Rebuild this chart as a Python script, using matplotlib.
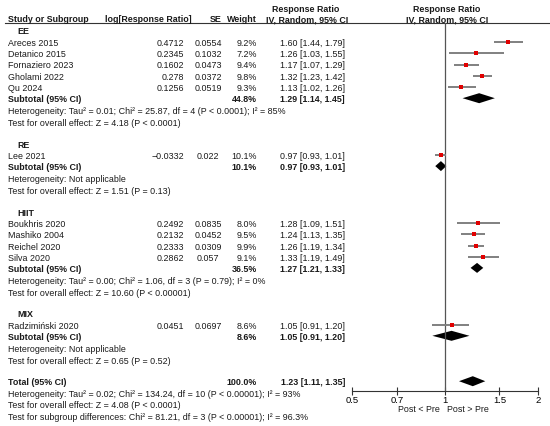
import matplotlib.pyplot as plt

plt.rcParams['font.family'] = ['Liberation Sans', 'DejaVu Sans']

# data
groups = ["EE", "RE", "HIIT", "MIX"]
studies = [
    ["Areces 2015", "Detanico 2015", "Fornaziero 2023", "Gholami 2022", "Qu 2024"],
    ["Lee 2021"],
    ["Boukhris 2020", "Mashiko 2004", "Reichel 2020", "Silva 2020"],
    ["Radzimiński 2020"],
]
log_rr = [
    ["0.4712", "0.2345", "0.1602", "0.278", "0.1256"],
    ["\u22120.0332"],
    ["0.2492", "0.2132", "0.2333", "0.2862"],
    ["0.0451"],
]
se = [
    ["0.0554", "0.1032", "0.0473", "0.0372", "0.0519"],
    ["0.022"],
    ["0.0835", "0.0452", "0.0309", "0.057"],
    ["0.0697"],
]
weights = [
    [9.2, 7.2, 9.4, 9.8, 9.3],
    [10.1],
    [8.0, 9.5, 9.9, 9.1],
    [8.6],
]
rr = [
    [1.60, 1.26, 1.17, 1.32, 1.13],
    [0.97],
    [1.28, 1.24, 1.26, 1.33],
    [1.05],
]
rr_lo = [
    [1.44, 1.03, 1.07, 1.23, 1.02],
    [0.93],
    [1.09, 1.13, 1.19, 1.19],
    [0.91],
]
rr_hi = [
    [1.79, 1.55, 1.29, 1.42, 1.26],
    [1.01],
    [1.51, 1.35, 1.34, 1.49],
    [1.20],
]
sub_weight = [44.8, 10.1, 36.5, 8.6]
sub_rr = [1.29, 0.97, 1.27, 1.05]
sub_lo = [1.14, 0.93, 1.21, 0.91]
sub_hi = [1.45, 1.01, 1.33, 1.20]
sub_het = [
    "Heterogeneity: Tau\u00b2 = 0.01; Chi\u00b2 = 25.87, df = 4 (P < 0.0001); I\u00b2 = 85%",
    "Heterogeneity: Not applicable",
    "Heterogeneity: Tau\u00b2 = 0.00; Chi\u00b2 = 1.06, df = 3 (P = 0.79); I\u00b2 = 0%",
    "Heterogeneity: Not applicable",
]
sub_test = [
    "Test for overall effect: Z = 4.18 (P < 0.0001)",
    "Test for overall effect: Z = 1.51 (P = 0.13)",
    "Test for overall effect: Z = 10.60 (P < 0.00001)",
    "Test for overall effect: Z = 0.65 (P = 0.52)",
]
total_rr, total_lo, total_hi = 1.23, 1.11, 1.35
total_lines = [
    "Heterogeneity: Tau\u00b2 = 0.02; Chi\u00b2 = 134.24, df = 10 (P < 0.00001); I\u00b2 = 93%",
    "Test for overall effect: Z = 4.08 (P < 0.0001)",
    "Test for subgroup differences: Chi\u00b2 = 81.21, df = 3 (P < 0.00001); I\u00b2 = 96.3%",
]
xticks = [0.5, 0.7, 1, 1.5, 2]
xtick_labels = ["0.5", "0.7", "1", "1.5", "2"]

W, H = 550, 426
FS = 6.4
fig = plt.figure(figsize=(W / 100, H / 100), dpi=100)
ax = fig.add_axes([0, 0, 1, 1])
ax.set_xlim(0, W)
ax.set_ylim(H, 0)
ax.axis("off")

X_LEFT, X_GROUP = 8, 17
X_LOG, X_SE, X_W, X_CI = 184, 208, 257, 345
F_LEFT, F_RIGHT, F_TOP, F_BOT = 352, 538, 23, 391

fa = fig.add_axes([F_LEFT / W, 1 - F_BOT / H, (F_RIGHT - F_LEFT) / W, (F_BOT - F_TOP) / H])
fa.set_xscale("log")
fa.set_xlim(0.5, 2)
fa.set_ylim(F_BOT, F_TOP)
fa.patch.set_alpha(0)
for s in ["top", "left", "right"]:
    fa.spines[s].set_visible(False)
fa.spines["bottom"].set_color("#333333")
fa.spines["bottom"].set_linewidth(0.8)
fa.set_yticks([])
fa.set_xticks(xticks)
fa.set_xticklabels(xtick_labels, fontsize=FS + 0.4)
fa.minorticks_off()
fa.tick_params(axis="x", direction="inout", length=6, width=0.8, color="#333333", pad=0.5)
fa.axvline(1, color="#555555", lw=0.9)


def t(x, y, s, ha="left", bold=False, size=FS):
    ax.text(x, y, s, ha=ha, va="center", fontsize=size,
            fontweight="bold" if bold else "normal", color="#1a1a1a")


def diamond(y, est, lo, hi, h=5):
    fa.fill([lo, est, hi, est], [y, y - h, y, y + h], color="black", lw=0)


# header
t(306, 9, "Response Ratio", ha="center", bold=True)
t(447, 9, "Response Ratio", ha="center", bold=True)
t(X_LEFT, 19.5, "Study or Subgroup", bold=True)
t(148, 19.5, "log[Response Ratio]", ha="center", bold=True)
t(222, 19.5, "SE", ha="right", bold=True)
t(X_W, 19.5, "Weight", ha="right", bold=True)
t(307, 19.5, "IV, Random, 95% CI", ha="center", bold=True)
t(447, 19.5, "IV, Random, 95% CI", ha="center", bold=True)
ax.plot([5, W], [F_TOP, F_TOP], color="#333333", lw=0.8)

y = 32
for g in range(len(groups)):
    t(X_GROUP, y, groups[g], bold=True)
    y += 11.4
    for i in range(len(studies[g])):
        t(X_LEFT, y, studies[g][i])
        t(X_LOG, y, log_rr[g][i], ha="right")
        t(X_SE, y, se[g][i], ha="center")
        t(X_W, y, f"{weights[g][i]:.1f}%", ha="right")
        t(X_CI, y, f"{rr[g][i]:.2f} [{rr_lo[g][i]:.2f}, {rr_hi[g][i]:.2f}]", ha="right")
        fa.plot([rr_lo[g][i], rr_hi[g][i]], [y - 1.5, y - 1.5], color="#808080", lw=1.4,
                solid_capstyle="butt")
        fa.plot(rr[g][i], y - 1.5, "s", color="#e00000", ms=2.3, mew=0, zorder=3)
        y += 11.3
    y -= 0.2
    t(X_LEFT, y, "Subtotal (95% CI)", bold=True)
    t(X_W, y, f"{sub_weight[g]:.1f}%", ha="right", bold=True)
    t(X_CI, y, f"{sub_rr[g]:.2f} [{sub_lo[g]:.2f}, {sub_hi[g]:.2f}]", ha="right", bold=True)
    diamond(y - 1.5, sub_rr[g], sub_lo[g], sub_hi[g])
    y += 12.2
    t(X_LEFT, y, sub_het[g])
    y += 11.5
    t(X_LEFT, y, sub_test[g])
    y += 21.7

t(X_LEFT, y, "Total (95% CI)", bold=True)
t(X_W, y, "100.0%", ha="right", bold=True)
t(X_CI, y, f"{total_rr:.2f} [{total_lo:.2f}, {total_hi:.2f}]", ha="right", bold=True)
diamond(y - 1.5, total_rr, total_lo, total_hi)
for line in total_lines:
    y += 11.6
    t(X_LEFT, y, line)

fa.text(0.96, 410, "Post < Pre", ha="right", va="center", fontsize=FS, color="#1a1a1a")
fa.text(1.015, 410, "Post > Pre", ha="left", va="center", fontsize=FS, color="#1a1a1a")

fig.savefig("out.png", dpi=100)
